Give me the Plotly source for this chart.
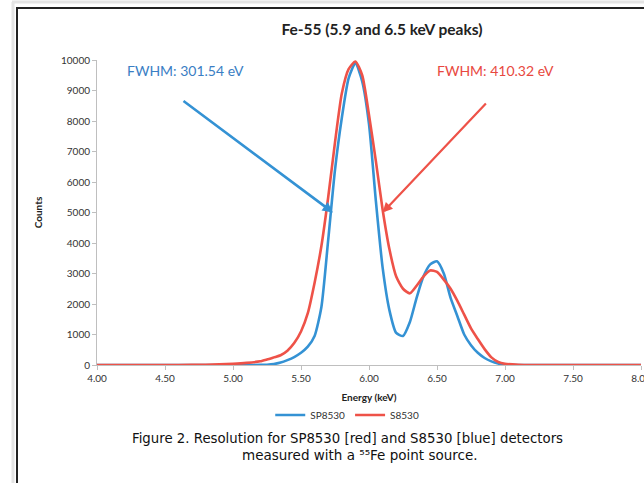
import plotly.graph_objects as go

energy = [4.00, 4.20, 4.40, 4.60, 4.80, 4.90, 5.00, 5.10, 5.20, 5.25, 5.30, 5.35, 5.40, 5.45,
          5.50, 5.55, 5.60, 5.65, 5.70, 5.75, 5.80, 5.85, 5.90, 5.95, 6.00, 6.05, 6.10, 6.15,
          6.20, 6.25, 6.30, 6.35, 6.40, 6.45, 6.50, 6.55, 6.60, 6.65, 6.70, 6.75, 6.80, 6.85,
          6.90, 6.95, 7.00, 7.10, 7.20, 7.40, 7.60, 7.80, 8.00]

sp8530 = [0, 0, 0, 0, 0, 0, 0, 0, 5, 10, 30, 80, 160, 260,
          400, 600, 950, 1900, 4100, 6400, 8100, 9400, 9900, 9300, 7900, 5400, 3200, 1800,
          1050, 950, 1400, 2200, 2900, 3300, 3400, 3000, 2200, 1600, 1000, 650, 400, 230,
          120, 50, 10, 0, 0, 0, 0, 0, 0]

s8530 = [0, 0, 0, 0, 10, 20, 40, 70, 120, 180, 250, 320, 470, 720,
         1100, 1700, 2700, 3900, 5500, 7300, 8900, 9700, 9950, 9500, 8200, 6700, 5100, 3800,
         2900, 2500, 2350, 2600, 2900, 3100, 3050, 2800, 2500, 2100, 1650, 1200, 850, 520,
         250, 100, 40, 10, 0, 0, 0, 0, 0]

x_ticks = [4.0, 4.5, 5.0, 5.5, 6.0, 6.5, 7.0, 7.5, 8.0]
y_ticks = [0, 1000, 2000, 3000, 4000, 5000, 6000, 7000, 8000, 9000, 10000]

BLUE = "rgb(52,146,212)"
RED = "rgb(238,82,72)"
FONT = "Lato"

fig = go.Figure()
fig.add_trace(go.Scatter(x=energy, y=sp8530, mode="lines", name="SP8530",
                         line=dict(color=BLUE, width=2.6, shape="spline", smoothing=0.6)))
fig.add_trace(go.Scatter(x=energy, y=s8530, mode="lines", name="S8530",
                         line=dict(color=RED, width=2.6, shape="spline", smoothing=0.6)))

fig.update_layout(
    width=644, height=483,
    margin=dict(l=97, r=3, t=60, b=118, autoexpand=False),
    paper_bgcolor="white", plot_bgcolor="white",
    title=dict(text="<b>Fe-55 (5.9 and 6.5 keV peaks)</b>", x=382 / 644, xanchor="center",
               y=1 - 30 / 483, yanchor="middle",
               font=dict(family=FONT, size=15.5, color="#222222")),
    xaxis=dict(range=[4, 8], tickvals=x_ticks, ticktext=[f"{v:.2f}" for v in x_ticks],
               ticklabeloverflow="allow", automargin=False,
               showgrid=False, zeroline=False, showline=True, linecolor="#BFBFBF", linewidth=1,
               ticks="outside", ticklen=4, tickcolor="#BFBFBF",
               tickfont=dict(family=FONT, size=10, color="#333333"),
               title=dict(text="<b>Energy (keV)</b>", font=dict(family=FONT, size=10, color="#222222"),
                          standoff=10)),
    yaxis=dict(range=[0, 10000], tickvals=y_ticks, ticktext=[str(v) for v in y_ticks],
               showgrid=False, zeroline=False, automargin=False,
               showline=True, linecolor="#BFBFBF", linewidth=1,
               ticks="outside", ticklen=4, tickcolor="#BFBFBF",
               tickfont=dict(family=FONT, size=10, color="#333333"),
               title=dict(text="<b>Counts</b>", font=dict(family=FONT, size=10, color="#222222"),
                          standoff=16)),
    legend=dict(orientation="h", x=0.46, xanchor="center", y=-0.164, yanchor="middle",
                font=dict(family=FONT, size=10, color="#333333"), itemwidth=30),
    showlegend=True,
)

# FWHM labels and arrows
fig.add_annotation(x=4.65, y=9670, text="FWHM: 301.54 eV", showarrow=False,
                   font=dict(family=FONT, size=14, color="rgb(58,126,196)"))
fig.add_annotation(x=6.93, y=9670, text="FWHM: 410.32 eV", showarrow=False,
                   font=dict(family=FONT, size=14, color="rgb(232,72,64)"))
fig.add_annotation(x=5.735, y=5000, ax=4.625, ay=8690, axref="x", ayref="y",
                   showarrow=True, arrowhead=2, arrowsize=0.8, arrowwidth=2.6,
                   arrowcolor=BLUE, text="")
fig.add_annotation(x=6.10, y=5000, ax=6.87, ay=8620, axref="x", ayref="y",
                   showarrow=True, arrowhead=2, arrowsize=0.9, arrowwidth=2.2,
                   arrowcolor=RED, text="")

# caption
fig.add_annotation(xref="paper", yref="paper", x=(347 - 97) / 544, y=(365 - 448) / 305,
                   text="Figure 2. Resolution for SP8530 [red] and S8530 [blue] detectors",
                   showarrow=False, font=dict(family="DejaVu Sans", size=13.3, color="#111111"))
fig.add_annotation(xref="paper", yref="paper", x=(360 - 97) / 544, y=(365 - 465) / 305,
                   text="measured with a ⁵⁵Fe point source.",
                   showarrow=False, font=dict(family="DejaVu Sans", size=13.5, color="#111111"))

def px(xp):
    return (xp - 97) / 544

def py(yp):
    return (365 - yp) / 305

# outer light frame
fig.add_shape(type="line", xref="paper", yref="paper", x0=px(13), x1=px(13),
              y0=py(490), y1=py(2), line=dict(color="#E4E4E4", width=3))
fig.add_shape(type="line", xref="paper", yref="paper", x0=px(12), x1=px(660),
              y0=py(2), y1=py(2), line=dict(color="#E4E4E4", width=3))
# frame border (left and top)
fig.add_shape(type="line", xref="paper", yref="paper", x0=px(17), x1=px(17),
              y0=py(490), y1=py(8), line=dict(color="#222222", width=2))
fig.add_shape(type="line", xref="paper", yref="paper", x0=px(16), x1=px(660),
              y0=py(8), y1=py(8), line=dict(color="#222222", width=2))

fig.write_html("out.html")
